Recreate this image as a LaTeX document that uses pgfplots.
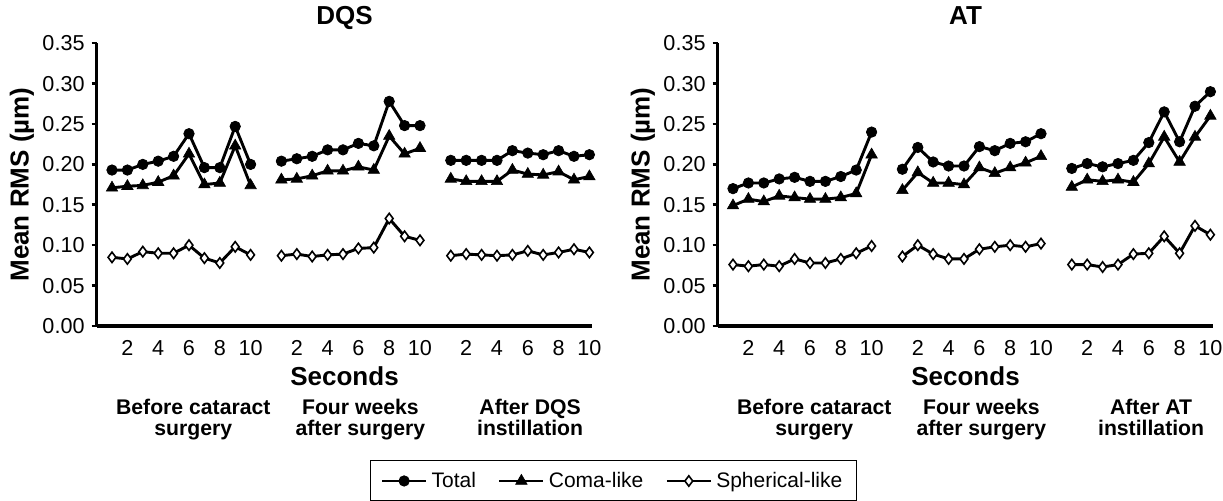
\documentclass[border=0pt]{standalone}
\usepackage{pgfplots}
\pgfplotsset{compat=1.18}
\usepackage{pgfplotstable}
\usepackage{fontspec}
\setmainfont{Liberation Sans}

% x positions: groups at 1-10, 12-21, 23-32; nan rows break the lines
\pgfplotstableread{
x   tot   coma  sph
1   0.193 0.171 0.085
2   0.193 0.173 0.083
3   0.200 0.174 0.092
4   0.204 0.178 0.090
5   0.210 0.186 0.090
6   0.238 0.213 0.100
7   0.196 0.175 0.084
8   0.196 0.177 0.078
9   0.247 0.223 0.098
10  0.200 0.174 0.088
11  nan   nan   nan
12  0.204 0.181 0.087
13  0.207 0.182 0.089
14  0.210 0.186 0.086
15  0.218 0.192 0.088
16  0.218 0.192 0.089
17  0.226 0.197 0.096
18  0.223 0.193 0.097
19  0.278 0.235 0.133
20  0.248 0.213 0.111
21  0.248 0.220 0.106
22  nan   nan   nan
23  0.205 0.182 0.087
24  0.205 0.179 0.089
25  0.205 0.179 0.088
26  0.205 0.179 0.087
27  0.217 0.193 0.088
28  0.214 0.188 0.093
29  0.212 0.187 0.088
30  0.217 0.191 0.091
31  0.210 0.181 0.095
32  0.212 0.185 0.091
}\dqs

\pgfplotstableread{
x   tot   coma  sph
1   0.170 0.149 0.076
2   0.177 0.157 0.074
3   0.177 0.154 0.076
4   0.182 0.161 0.074
5   0.184 0.159 0.083
6   0.179 0.157 0.078
7   0.179 0.157 0.078
8   0.185 0.159 0.083
9   0.193 0.164 0.090
10  0.240 0.212 0.099
11  nan   nan   nan
12  0.194 0.168 0.086
13  0.221 0.190 0.100
14  0.203 0.177 0.089
15  0.198 0.177 0.083
16  0.198 0.175 0.083
17  0.222 0.196 0.095
18  0.217 0.189 0.098
19  0.226 0.196 0.100
20  0.228 0.202 0.098
21  0.238 0.210 0.102
22  nan   nan   nan
23  0.195 0.172 0.076
24  0.201 0.181 0.076
25  0.197 0.179 0.073
26  0.201 0.181 0.076
27  0.205 0.178 0.089
28  0.227 0.201 0.090
29  0.265 0.234 0.111
30  0.228 0.203 0.090
31  0.272 0.234 0.124
32  0.290 0.260 0.113
}\at

\pgfplotsset{
  rmspanel/.style={
    scale only axis, width=247.94pt, height=141.4pt,
    xmin=0, xmax=32.2, ymin=0, ymax=0.35,
    axis x line=bottom, axis y line=left,
    axis line style={-, line width=1.6pt},
    tick align=outside, major tick length=2.5pt,
    ytick={0,0.05,0.10,0.15,0.20,0.25,0.30,0.35},
    /pgf/number format/assume math mode=true,
    y tick label style={/pgf/number format/fixed,
      /pgf/number format/fixed zerofill, /pgf/number format/precision=2},
    xtick={2,4,6,8,10,13,15,17,19,21,24,26,28,30,32},
    xticklabels={2,4,6,8,10,2,4,6,8,10,2,4,6,8,10},
    xtick style={draw=none},
    ytick style={line width=1.3pt, black},
    tick label style={font=\fontsize{10.8}{12}\selectfont},
    xticklabel style={anchor=base, yshift=-12.25pt},
    title style={at={(0.5,1)}, anchor=base, yshift=3.5pt,
      font=\bfseries\fontsize{13}{15}\selectfont},
    xlabel style={at={(axis description cs:0.5,-0.21)}, anchor=base,
      font=\bfseries\fontsize{13}{15}\selectfont},
    ylabel style={at={(axis description cs:-0.1504,0.5)}, anchor=center,
      font=\bfseries\fontsize{13}{15}\selectfont},
    xlabel={Seconds}, ylabel={Mean RMS (µm)},
    unbounded coords=jump, clip=false,
    legend image code/.code={\draw[mark repeat=2,mark phase=2,##1]
      plot coordinates {(0pt,0pt) (11pt,0pt) (22pt,0pt)};},
  },
  tot/.style={black, line width=1.45pt, mark=*, mark size=2.6pt,
    mark options={solid, line width=0.4pt}},
  coma/.style={black, line width=1.45pt, mark=triangle*, mark size=3.3pt,
    mark options={solid, line width=0.3pt}},
  sph/.style={black, line width=1.45pt, mark=diamond*, mark size=2.6pt,
    mark options={solid, fill=white, line width=0.8pt}},
}
\tikzset{grp/.style={font=\bfseries\fontsize{10.6}{12}\selectfont, anchor=base}}

\begin{document}
\begin{tikzpicture}
\useasboundingbox (0,0) rectangle (611.5pt,-250.5pt);

\begin{axis}[rmspanel, at={(48.3pt,-163pt)}, anchor=south west,
  title={DQS},
  legend columns=3,
  legend style={at={(axis description cs:1.0424,-0.548)}, anchor=center,
    draw=black, line width=0.6pt, font=\fontsize{10.5}{12}\selectfont,
    inner xsep=5pt, inner ysep=3.5pt,
    /tikz/every even column/.append style={column sep=9pt}},
]
\addplot[tot] table[x=x, y=tot] {\dqs};
\addplot[coma] table[x=x, y=coma] {\dqs};
\addplot[sph] table[x=x, y=sph] {\dqs};
\legend{Total, Coma-like, Spherical-like}
\node[grp] at (axis cs:6.28,-0.1101) {Before cataract};
\node[grp] at (axis cs:6.28,-0.1361) {surgery};
\node[grp] at (axis cs:17.13,-0.1101) {Four weeks};
\node[grp] at (axis cs:17.13,-0.1361) {after surgery};
\node[grp] at (axis cs:28.15,-0.1101) {After DQS};
\node[grp] at (axis cs:28.15,-0.1361) {instillation};
\end{axis}

\begin{axis}[rmspanel, at={(358.8pt,-163pt)}, anchor=south west,
  title={AT},
]
\addplot[tot] table[x=x, y=tot] {\at};
\addplot[coma] table[x=x, y=coma] {\at};
\addplot[sph] table[x=x, y=sph] {\at};
\node[grp] at (axis cs:6.28,-0.1101) {Before cataract};
\node[grp] at (axis cs:6.28,-0.1361) {surgery};
\node[grp] at (axis cs:17.13,-0.1101) {Four weeks};
\node[grp] at (axis cs:17.13,-0.1361) {after surgery};
\node[grp] at (axis cs:28.15,-0.1101) {After AT};
\node[grp] at (axis cs:28.15,-0.1361) {instillation};
\end{axis}
\end{tikzpicture}
\end{document}
